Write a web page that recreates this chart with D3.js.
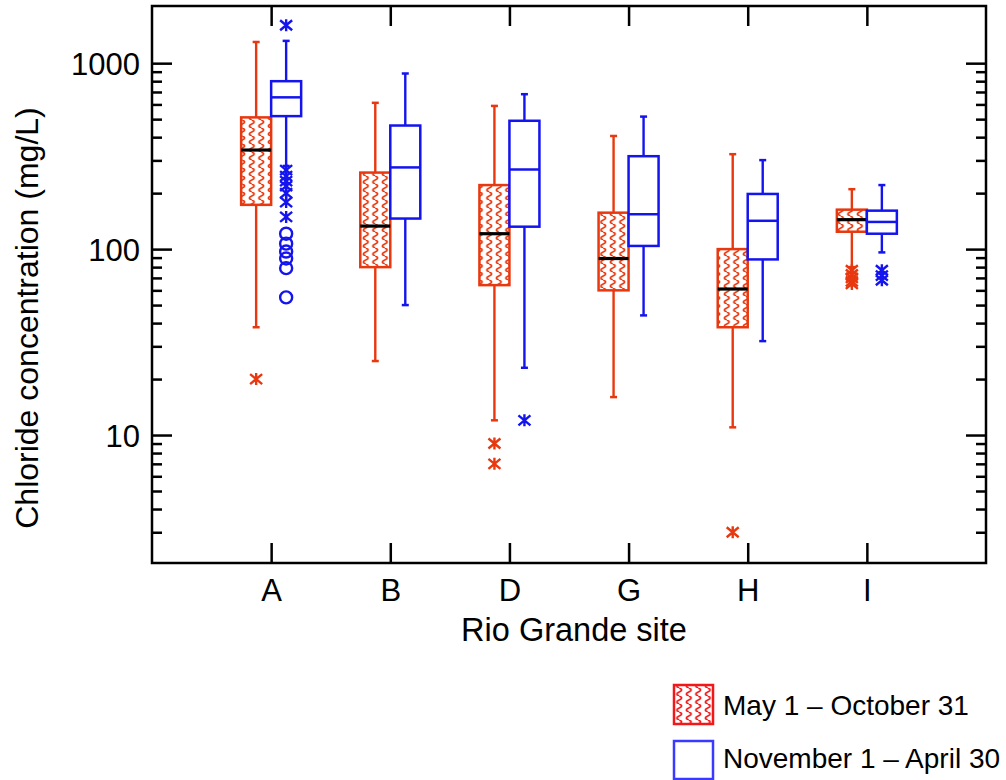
<!DOCTYPE html>
<html>
<head>
<meta charset="utf-8">
<script src="https://cdn.jsdelivr.net/npm/d3@7"></script>
<style>
  html, body { margin: 0; padding: 0; background: #fff; }
  svg { display: block; font-family: "Liberation Sans", Arial, Helvetica, sans-serif; }
</style>
</head>
<body>
<svg id="chart" width="1006" height="780"></svg>
<script>
// ---------------- data ----------------
const sites = ["A", "B", "D", "G", "H", "I"];
const seasonLabels = ["May 1 \u2013 October 31", "November 1 \u2013 April 30"];

// May 1 – October 31 (red, hatched)
const summerLow    = [38, 25, 12, 16, 11, 80];
const summerQ1     = [173, 80, 64, 60, 38, 124];
const summerMedian = [341, 133, 121, 89, 61, 144];
const summerQ3     = [511, 258, 221, 157, 100, 163];
const summerHigh   = [1300, 612, 589, 406, 324, 210];
const summerStars  = [[20], [], [9, 7], [], [3], [77, 73, 70, 67, 65]];
const summerCircles = [[], [], [], [], [], []];

// November 1 – April 30 (blue, open)
const winterLow    = [280, 50, 23, 44, 32, 96];
const winterQ1     = [519, 146, 132, 104, 88, 121];
const winterMedian = [655, 275, 268, 154, 142, 140];
const winterQ3     = [800, 462, 490, 316, 198, 161];
const winterHigh   = [1318, 880, 681, 516, 301, 221];
const winterStars  = [[1600, 266, 247, 232, 218, 200, 179, 149], [], [12], [], [], [77, 72, 68]];
const winterCircles = [[121, 107, 97, 89, 79, 55], [], [], [], [], []];

const majorTicks = [10, 100, 1000];
const yTitle = "Chloride concentration (mg/L)";
const xTitle = "Rio Grande site";

// ---------------- layout ----------------
const RED = "#e8380f", BLUE = "#1414ee", LRED = "#f01818", LBLUE = "#3a3aff";
const pLeft = 152, pRight = 986, pTop = 6, pBottom = 563;
const svg = d3.select("#chart");

const x = d3.scalePoint().domain(sites).range([pLeft, pRight]).padding(1);
const y = d3.scaleLog().domain([2.05, 2030]).range([pBottom, pTop]);

// pattern
const defs = svg.append("defs");
function wavePattern(id, color) {
  const p = defs.append("pattern").attr("id", id)
    .attr("patternUnits", "userSpaceOnUse").attr("width", 9.5).attr("height", 8);
  p.append("rect").attr("width", 9.5).attr("height", 8).attr("fill", "#fff");
  p.append("path").attr("d", "M4.75,0 Q9.5,2 4.75,4 Q0,6 4.75,8")
    .attr("fill", "none").attr("stroke", color).attr("stroke-width", 1.8);
}
wavePattern("wave", RED);
wavePattern("waveL", LRED);

// axes (ticks inward)
const minor = y.ticks().filter(v => v <= 1000 && majorTicks.indexOf(v) < 0);
function yAxis(gen, xpos) {
  const gMin = svg.append("g").attr("transform", `translate(${xpos},0)`)
    .call(gen(y).tickValues(minor).tickSize(-10).tickFormat(""));
  const gMaj = svg.append("g").attr("transform", `translate(${xpos},0)`)
    .call(gen(y).tickValues(majorTicks).tickSize(-20).tickFormat(d3.format("d")));
  [gMin, gMaj].forEach(g => {
    g.select(".domain").remove();
    g.selectAll("line").attr("stroke", "#000").attr("stroke-width", 2.5);
  });
  return gMaj;
}
const gl = yAxis(d3.axisLeft, pLeft);
gl.selectAll("text").attr("font-size", 31).attr("fill", "#000").attr("x", -12).attr("dy", "0.36em");
const gr = yAxis(d3.axisRight, pRight);
gr.selectAll("text").remove();

const gb = svg.append("g").attr("transform", `translate(0,${pBottom})`)
  .call(d3.axisBottom(x).tickSize(-20).tickPadding(14));
gb.select(".domain").remove();
gb.selectAll("line").attr("stroke", "#000").attr("stroke-width", 2.5);
gb.selectAll("text").attr("font-size", 31).attr("fill", "#000").attr("dy", "0.71em").attr("y", 16);
const gt = svg.append("g").attr("transform", `translate(0,${pTop})`)
  .call(d3.axisTop(x).tickSize(-20).tickFormat(""));
gt.select(".domain").remove();
gt.selectAll("line").attr("stroke", "#000").attr("stroke-width", 2.5);

// frame
svg.append("rect").attr("x", pLeft).attr("y", pTop).attr("width", pRight - pLeft).attr("height", pBottom - pTop)
  .attr("fill", "none").attr("stroke", "#000").attr("stroke-width", 2.5);

// titles
svg.append("text").attr("transform", `translate(38,318) rotate(-90)`)
  .attr("text-anchor", "middle").attr("font-size", 32).text(yTitle);
svg.append("text").attr("x", 574).attr("y", 641).attr("text-anchor", "middle")
  .attr("font-size", 32.5).text(xTitle);

// boxes
const boxW = 30;
const series = [
  {low: summerLow, q1: summerQ1, med: summerMedian, q3: summerQ3, high: summerHigh,
   stars: summerStars, circles: summerCircles, color: RED, fill: "url(#wave)", medColor: "#000", medW: 3.2, off: -1},
  {low: winterLow, q1: winterQ1, med: winterMedian, q3: winterQ3, high: winterHigh,
   stars: winterStars, circles: winterCircles, color: BLUE, fill: "#fff", medColor: BLUE, medW: 2.5, off: 1}
];

const plot = svg.append("g");
series.forEach(s => {
  const g = plot.append("g");
  sites.forEach((site, i) => {
    const c = x(site);
    const bx = s.off < 0 ? c - boxW : c;
    const wx = bx + boxW / 2;
    // whisker
    g.append("line").attr("x1", wx).attr("x2", wx).attr("y1", y(s.low[i])).attr("y2", y(s.high[i]))
      .attr("stroke", s.color).attr("stroke-width", 2.4);
    [s.low[i], s.high[i]].forEach(v => {
      g.append("line").attr("x1", wx - 3.5).attr("x2", wx + 3.5).attr("y1", y(v)).attr("y2", y(v))
        .attr("stroke", s.color).attr("stroke-width", 2.5);
    });
    // box
    g.append("rect").attr("x", bx).attr("y", y(s.q3[i])).attr("width", boxW)
      .attr("height", y(s.q1[i]) - y(s.q3[i]))
      .attr("fill", s.fill).attr("stroke", s.color).attr("stroke-width", 2.5);
    g.append("line").attr("x1", bx).attr("x2", bx + boxW).attr("y1", y(s.med[i])).attr("y2", y(s.med[i]))
      .attr("stroke", s.medColor).attr("stroke-width", s.medW);
    // outliers
    s.stars[i].forEach(v => {
      const yy = y(v);
      g.append("path")
        .attr("d", `M${wx - 6},${yy - 5}L${wx + 6},${yy + 5}M${wx - 6},${yy + 5}L${wx + 6},${yy - 5}M${wx},${yy - 6}L${wx},${yy + 6}`)
        .attr("stroke", s.color).attr("stroke-width", 2.4).attr("fill", "none");
    });
    s.circles[i].forEach(v => {
      g.append("circle").attr("cx", wx).attr("cy", y(v)).attr("r", 6)
        .attr("fill", "none").attr("stroke", s.color).attr("stroke-width", 2.4);
    });
  });
});

// legend
const lg = svg.append("g");
lg.append("rect").attr("x", 674).attr("y", 685).attr("width", 39).attr("height", 39)
  .attr("fill", "url(#waveL)").attr("stroke", LRED).attr("stroke-width", 2.5);
lg.append("text").attr("x", 723).attr("y", 715).attr("font-size", 28).text(seasonLabels[0]);
lg.append("rect").attr("x", 674).attr("y", 741).attr("width", 39).attr("height", 38)
  .attr("fill", "#fff").attr("stroke", LBLUE).attr("stroke-width", 2.5);
lg.append("text").attr("x", 723).attr("y", 768).attr("font-size", 28).text(seasonLabels[1]);
</script>
</body>
</html>
